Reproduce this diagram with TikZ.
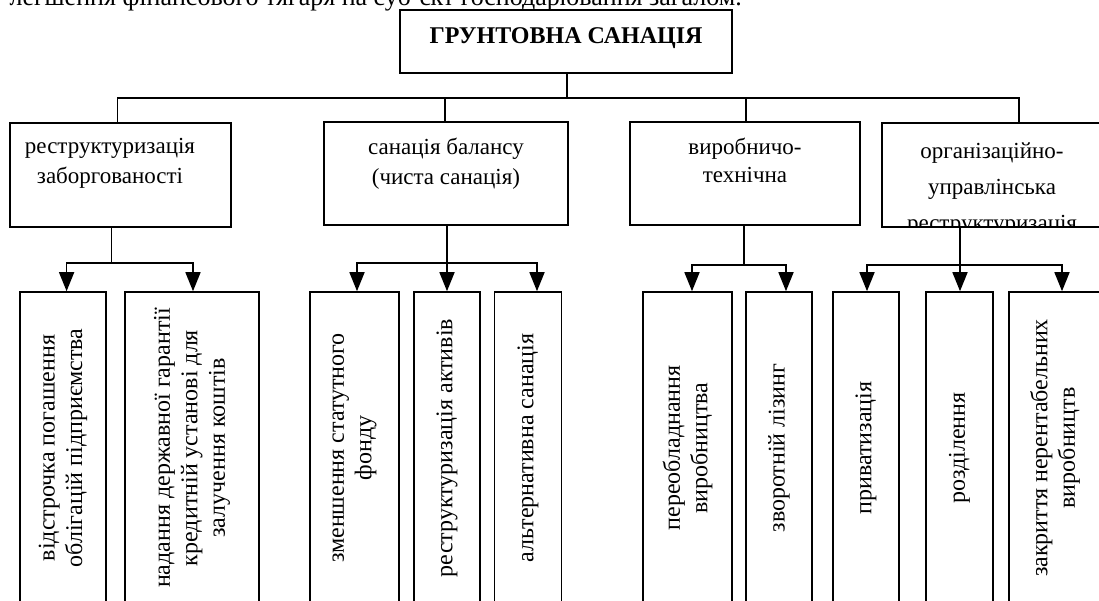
\documentclass[tikz,border=0pt]{standalone}
\usepackage{fontspec}
\setmainfont{Liberation Serif}
\usetikzlibrary{arrows.meta}
\begin{document}
\begin{tikzpicture}[x=1pt,y=-1pt,
  box/.style={draw, line width=1.6pt, inner sep=0pt},
  lbl/.style={font=\fontsize{23}{30}\selectfont, align=center, inner sep=0pt, anchor=base},
  child/.style={draw, line width=1.6pt, inner sep=0pt, rotate=90, align=center,
    minimum width=312pt, font=\fontsize{24}{27.5}\selectfont},
  ln/.style={line width=1.6pt},
  arr/.style={line width=1.6pt, -{Triangle[length=19pt,width=15pt]}}]
\useasboundingbox (0,0) rectangle (1099,600);
\clip (0,0) rectangle (1099,600);

% heading line, cut by the top of the picture
\node[anchor=base east, inner sep=0pt, font=\fontsize{26}{28}\selectfont] (head) at (742,5)
  {легшення фінансового тягаря на суб’єкт господарювання загалом.};

% main box
\node[box, minimum width=332pt, minimum height=63pt] (main) at (566,41.5) {};
\node[lbl, font=\bfseries\fontsize{24}{28}\selectfont] (title) at (566,43) {ГРУНТОВНА САНАЦІЯ};

% second level boxes
\node[box, minimum width=221pt, minimum height=104pt] (b1) at (120.5,175) {};
\node[box, minimum width=244pt, minimum height=103pt] (b2) at (446,173.5) {};
\node[box, minimum width=230pt, minimum height=103pt] (b3) at (745,173.5) {};
\node[box, minimum width=220pt, minimum height=104pt] (b4) at (992,175) {};

% (base anchor = baseline of the last line)
\node[lbl] (t1) at (110,183.5) {реструктуризація\\заборгованості};
\node[lbl] (t2) at (446,184.5) {санація балансу\\(чиста санація)};
\node[lbl, font=\fontsize{23}{28}\selectfont] (t3) at (745,182) {виробничо-\\технічна};
\begin{scope}
  \clip (b4.south west) rectangle (b4.north east);
  \node[lbl, font=\fontsize{23}{36}\selectfont] (t4) at (992,230) {організаційно-\\управлінська\\реструктуризація};
\end{scope}

% children (rotated: their east anchor is on top)
\node[child, minimum height=86pt]   (c1)  at (63,448)   {відстрочка погашення\\облігацій підприємства};
\node[child, minimum height=133.5pt](c2)  at (192,448)  {надання державної гарантії\\кредитній установі для\\залучення коштів};
\node[child, minimum height=89pt]   (c3)  at (354.5,448){зменшення статутного\\фонду};
\node[child, minimum height=66pt]   (c4)  at (447,448)  {реструктуризація активів};
\node[child, minimum height=67pt]   (c5)  at (528,448)  {альтернативна санація};
\node[child, minimum height=89pt]   (c6)  at (687.5,448){переобладнання\\виробництва};
\node[child, minimum height=66pt]   (c7)  at (779,448)  {зворотній лізинг};
\node[child, minimum height=66pt]   (c8)  at (866,448)  {приватизація};
\node[child, minimum height=67pt]   (c9)  at (959.5,448){розділення};
\node[child, minimum height=91.5pt] (c10) at (1055,448) {закриття нерентабельних\\виробництв};

% top connectors
\coordinate (hub) at (567,98);
\coordinate (h1) at (117.5,98);
\coordinate (h2) at (445,98);
\coordinate (h3) at (746,98);
\coordinate (h4) at (1019,98);
\draw[ln] (main.south -| hub) -- (hub);
\draw[ln, line join=miter] (b1.north -| h1) -- (h1) -- (h4) -- (b4.north -| h4);
\draw[ln] (h2) -- (b2.north -| h2);
\draw[ln] (h3) -- (b3.north -| h3);

% lower connectors
\coordinate (k1) at (111.5,263);
\coordinate (k2) at (447,263);
\coordinate (k3) at (744,265);
\coordinate (k4) at (960,265);

\draw[ln] (b1.south -| k1) -- (k1);
\draw[arr] (k1) -| ([xshift=3.6pt]c1.east);
\draw[arr] (k1) -| ([xshift=1pt]c2.east);

\draw[arr] (b2.south -| k2) -- (c4.east -| k2);
\draw[arr] (k2) -| ([xshift=2.5pt]c3.east);
\draw[arr] (k2) -| ([xshift=9pt]c5.east);

\draw[ln] (b3.south -| k3) -- (k3);
\draw[arr] (k3) -| ([xshift=4.5pt]c6.east);
\draw[arr] (k3) -| ([xshift=7pt]c7.east);

\draw[arr] (b4.south -| k4) -- (c9.east -| k4);
\draw[arr] (k4) -| ([xshift=1pt]c8.east);
\draw[arr] (k4) -| ([xshift=7pt]c10.east);
\end{tikzpicture}
\end{document}
